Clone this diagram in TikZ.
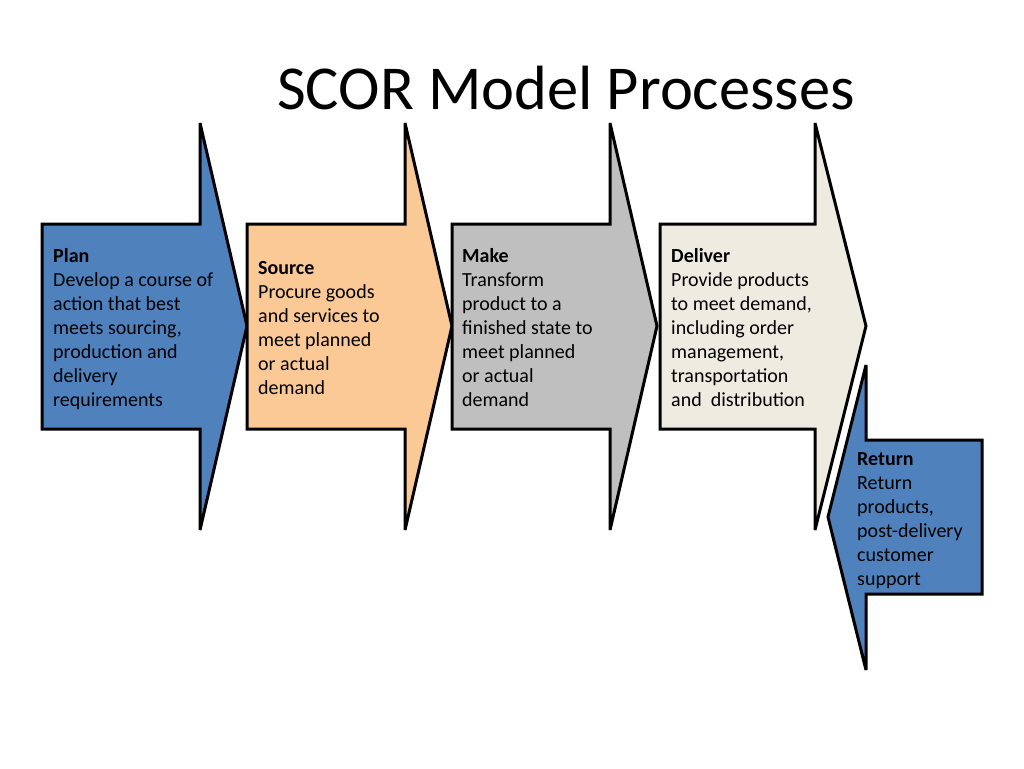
\documentclass[tikz,border=0pt]{standalone}
\usepackage{fontspec}
\setmainfont{Carlito}
\definecolor{planblue}{HTML}{4F81BD}
\definecolor{sourcepeach}{HTML}{FBC995}
\definecolor{makegray}{HTML}{BFBFBF}
\definecolor{delivercream}{HTML}{EEECE1}
\tikzset{
  arrowshape/.style={draw=black, line width=3pt, line join=miter, miter limit=5},
  steptext/.style={anchor=base west, align=left, inner sep=0pt, font=\fontsize{20}{24}\selectfont, text=black},
  titletext/.style={anchor=base west, inner sep=0pt, font=\fontsize{62.5}{70}\selectfont, text=black}
}
\begin{document}
\begin{tikzpicture}[x=1pt, y=-1pt]
\useasboundingbox (0,0) rectangle (1024,768);
\fill[white] (0,0) rectangle (1024,768);
% arrows
\path[arrowshape, fill=planblue] (42,224) -- (200,224) -- (200,123) -- (247,326) -- (200,530) -- (200,429) -- (42,429) -- cycle;
\path[arrowshape, fill=sourcepeach] (247,224) -- (405,224) -- (405,123) -- (452,326) -- (405,530) -- (405,429) -- (247,429) -- cycle;
\path[arrowshape, fill=makegray] (452,224) -- (610,224) -- (610,123) -- (657,326) -- (610,530) -- (610,429) -- (452,429) -- cycle;
\path[arrowshape, fill=delivercream] (660,224) -- (815,224) -- (815,123) -- (866,326) -- (815,530) -- (815,429) -- (660,429) -- cycle;
\path[arrowshape, fill=planblue] (982,440) -- (866,440) -- (866,365) -- (828,517) -- (866,670) -- (866,594) -- (982,594) -- cycle;
% title
\node[titletext] (title) at (277,109) {SCOR Model Processes};
% texts (anchored at the baseline of the last line)
\node[steptext] (plan) at (53,406) {\textbf{Plan}\\Develop a course of\\action that best\\meets sourcing,\\production and\\delivery\\requirements};
\node[steptext] (source) at (258,394) {\textbf{Source}\\Procure goods\\and services to\\meet planned\\or actual\\demand};
\node[steptext] (make) at (462,406) {\textbf{Make}\\Transform\\product to a\\finished state to\\meet planned\\or actual\\demand};
\node[steptext] (deliver) at (671,406) {\textbf{Deliver}\\Provide products\\to meet demand,\\including order\\management,\\transportation\\and\ \ distribution};
\node[steptext] (return) at (857,585) {\textbf{Return}\\Return\\products,\\post-delivery\\customer\\support};
\end{tikzpicture}
\end{document}
